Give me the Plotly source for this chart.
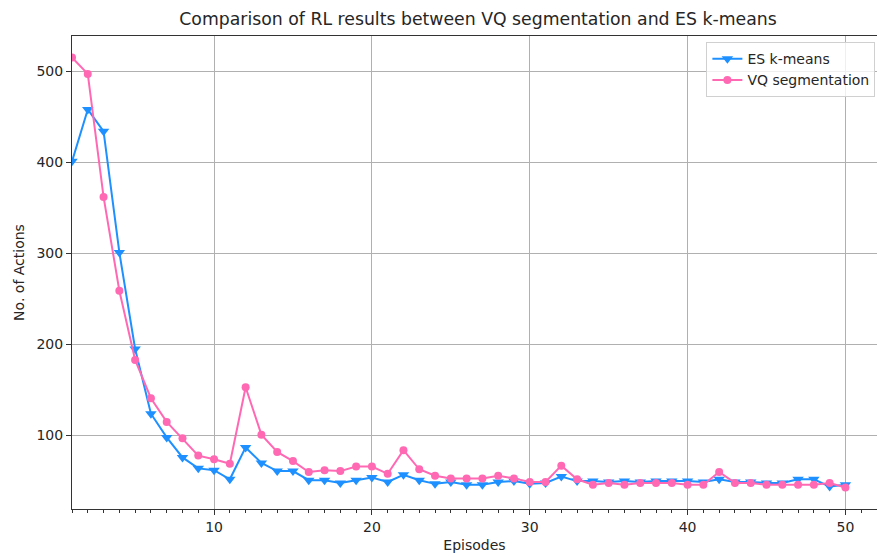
import plotly.graph_objects as go

episodes = list(range(1, 51))

es_kmeans = [401, 458, 434, 301, 195, 124, 98, 76, 64, 62,
             52, 87, 70, 61, 61, 51, 51, 48, 51, 54,
             49, 57, 51, 47, 49, 46, 46, 49, 50, 47,
             48, 55, 50, 50, 49, 50, 49, 50, 50, 50,
             49, 52, 49, 49, 48, 48, 52, 52, 44, 46]

vq_segmentation = [515, 497, 362, 259, 183, 141, 115, 97, 78, 74,
                   69, 153, 101, 82, 72, 60, 62, 61, 66, 66,
                   58, 84, 63, 56, 53, 53, 53, 56, 53, 49,
                   49, 67, 52, 46, 48, 46, 48, 48, 48, 46,
                   46, 60, 48, 48, 46, 46, 46, 46, 48, 43]

x_ticks = [10, 20, 30, 40, 50]
y_ticks = [100, 200, 300, 400, 500]

BLUE = "#1E90FF"
PINK = "#FF69B4"
FONT = "DejaVu Sans"
TXT = "#262626"

fig = go.Figure()
fig.add_trace(go.Scatter(
    x=episodes, y=es_kmeans, name="ES k-means", mode="lines+markers",
    line=dict(color=BLUE, width=2),
    marker=dict(symbol="triangle-down", size=10, color=BLUE),
))
fig.add_trace(go.Scatter(
    x=episodes, y=vq_segmentation, name="VQ segmentation", mode="lines+markers",
    line=dict(color=PINK, width=2),
    marker=dict(symbol="circle", size=8, color=PINK),
))

fig.update_layout(
    width=877, height=559,
    margin=dict(l=72, r=0, t=36, b=50),
    paper_bgcolor="white", plot_bgcolor="white",
    font=dict(family=FONT, size=14, color=TXT),
    title=dict(text="Comparison of RL results between VQ segmentation and ES k-means",
               x=(72 + 884) / 2 / 877, xanchor="center", y=1 - 19 / 559, yanchor="middle",
               font=dict(family=FONT, size=17.3, color=TXT)),
    showlegend=True,
    legend=dict(x=0.998, y=0.987, xanchor="right", yanchor="top",
                bgcolor="rgba(255,255,255,0.8)", bordercolor="#d0d0d0", borderwidth=1,
                font=dict(family=FONT, size=14, color=TXT),
                itemwidth=30, tracegroupgap=0),
)

fig.update_xaxes(
    range=[1, 52.0], tickvals=x_ticks, ticks="outside", ticklen=5, tickwidth=1,
    tickcolor="#333", showline=True, linecolor="#333", linewidth=1, mirror=True,
    showgrid=True, gridcolor="#b0b0b0", gridwidth=1, zeroline=False,
    minor=dict(dtick=1, ticks="outside", ticklen=3, tickcolor="#333", showgrid=False),
    title=dict(text="Episodes", standoff=6, font=dict(family=FONT, size=14)),
    tickfont=dict(family=FONT, size=14, color=TXT),
)
fig.update_yaxes(
    range=[19.4, 538.6], tickvals=y_ticks, ticks="outside", ticklen=5, tickwidth=1,
    tickcolor="#333", showline=True, linecolor="#333", linewidth=1,
    showgrid=True, gridcolor="#b0b0b0", gridwidth=1, zeroline=False,
    title=dict(text="No. of Actions", standoff=8, font=dict(family=FONT, size=14)),
    tickfont=dict(family=FONT, size=14, color=TXT),
)

fig.write_html("out.html")
